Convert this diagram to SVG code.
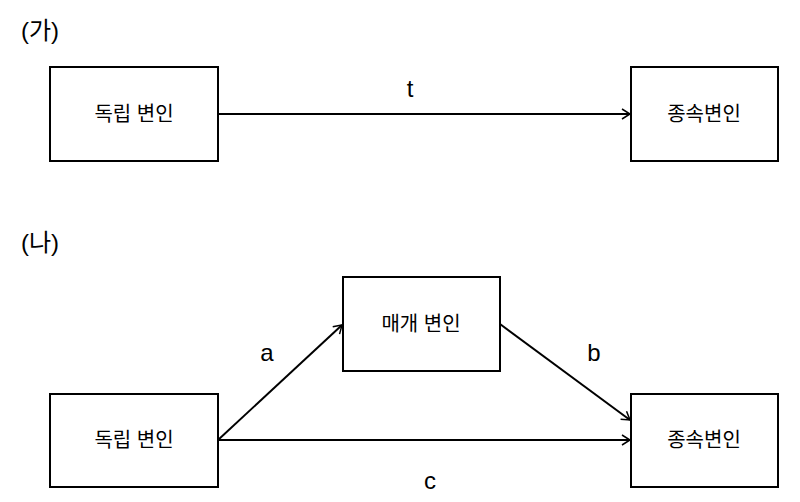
<svg xmlns="http://www.w3.org/2000/svg" width="800" height="502" viewBox="0 0 800 502">
<style>
.b{fill:#fff;stroke:#000;stroke-width:2}
.t{font-family:"Liberation Sans","Noto Sans CJK KR",sans-serif;font-size:20px;fill:#000;text-anchor:middle;dominant-baseline:central}
.l{font-family:"Liberation Sans","Noto Sans CJK KR",sans-serif;font-size:24px;fill:#000;text-anchor:middle;dominant-baseline:central}
.c{stroke:#000;stroke-width:2;fill:none;marker-end:url(#m)}
</style>
<defs><marker id="m" markerWidth="12" markerHeight="12" refX="10" refY="6" orient="auto" markerUnits="userSpaceOnUse"><path d="M2,1 L10,6 L2,11" fill="none" stroke="#000" stroke-width="1.5"/></marker></defs>
<rect width="800" height="502" fill="#fff"/>
<text class="l" x="40" y="30">(가)</text>
<text class="l" x="40" y="242">(나)</text>
<g id="connectors">
<line class="c" x1="218" y1="114" x2="630" y2="114"/>
<line class="c" x1="218" y1="440" x2="630" y2="440"/>
<line class="c" x1="218" y1="440" x2="342" y2="325"/>
<line class="c" x1="500" y1="324" x2="630" y2="420"/>
<text class="l" x="410" y="88">t</text>
<text class="l" x="267" y="352">a</text>
<text class="l" x="594" y="352">b</text>
<text class="l" x="430" y="480">c</text>
</g>
<g id="n1"><rect class="b" x="50" y="67" width="168" height="94"/><text class="t" x="134" y="114">독립 변인</text></g>
<g id="n2"><rect class="b" x="631" y="67" width="147" height="94"/><text class="t" x="704" y="114">종속변인</text></g>
<g id="n3"><rect class="b" x="343" y="277" width="157" height="94"/><text class="t" x="421" y="324">매개 변인</text></g>
<g id="n4"><rect class="b" x="50" y="394" width="168" height="93"/><text class="t" x="134" y="440">독립 변인</text></g>
<g id="n5"><rect class="b" x="631" y="394" width="147" height="93"/><text class="t" x="704" y="440">종속변인</text></g>
</svg>
